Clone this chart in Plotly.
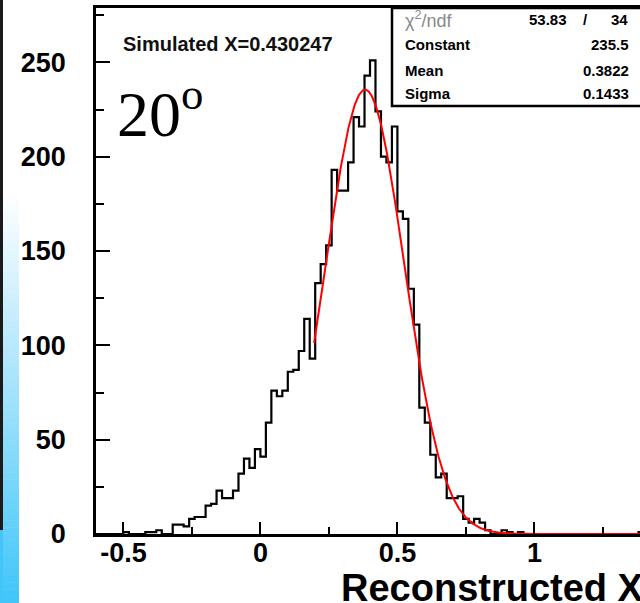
import numpy as np
import plotly.graph_objects as go

# ---------------- data ----------------
BIN_LOW = -0.6
BIN_WIDTH = 0.02
COUNTS = [
    0, 0, 0, 0, 0, 1, 0, 0, 0, 1,
    1, 2, 0, 0, 5, 5, 4, 8, 9, 9,
    15, 16, 23, 19, 19, 23, 32, 40, 35, 45,
    41, 59, 76, 73, 76, 86, 87, 97, 114, 93,
    133, 143, 153, 193, 182, 182, 197, 221, 216, 243,
    251, 224, 200, 197, 216, 171, 167, 130, 111, 67,
    59, 42, 30, 32, 19, 19, 20, 8, 6, 8,
    6, 2, 0, 0, 2, 1, 0, 1, 0, 0,
    0, 0, 0, 0, 0, 0, 0, 0, 0, 0,
    0, 0, 0, 0, 0, 0, 0, 0, 0, 1,
]
FIT_CONSTANT = 235.5
FIT_MEAN = 0.3822
FIT_SIGMA = 0.1433
FIT_RANGE = (0.196, 1.4)
CHI2 = "53.83"
NDF = "34"
SIM_X = "0.430247"
ANGLE_LABEL = "20"
X_TICKS = [-0.5, 0, 0.5, 1]
X_TICK_TEXT = ["-0.5", "0", "0.5", "1"]
Y_TICKS = [0, 50, 100, 150, 200, 250]
X_RANGE = [-0.6, 1.3854]
Y_RANGE = [0, 278.8]

# ---------------- layout geometry (pixels) ----------------
W, H = 640, 603
L, R, T, B = 96, 640, 8, 534


def xp(px):
    return (px - L) / (R - L)


def yp(py):
    return (B - py) / (B - T)


edges = BIN_LOW + BIN_WIDTH * np.arange(len(COUNTS) + 1)
step_y = list(COUNTS) + [COUNTS[-1]]

fig = go.Figure()
fig.add_trace(go.Scatter(
    x=edges, y=step_y, mode="lines", line=dict(color="black", width=2.2, shape="hv"),
    hoverinfo="skip", showlegend=False, cliponaxis=True,
))

fx = np.linspace(FIT_RANGE[0], FIT_RANGE[1], 600)
fy = FIT_CONSTANT * np.exp(-0.5 * ((fx - FIT_MEAN) / FIT_SIGMA) ** 2)
fig.add_trace(go.Scatter(
    x=fx, y=fy, mode="lines", line=dict(color="#ff0000", width=2),
    hoverinfo="skip", showlegend=False,
))

tick_font = dict(family="Liberation Sans", size=27, color="black", weight="bold")

fig.update_xaxes(
    range=X_RANGE, tickvals=X_TICKS, ticktext=X_TICK_TEXT, ticks="inside", ticklen=12,
    tickwidth=1.5, tickcolor="black", showline=True, linewidth=2.5, linecolor="black",
    mirror=True, showgrid=False, zeroline=False, tickfont=tick_font,
    minor=dict(dtick=0.25, tick0=0, ticks="inside", ticklen=7, tickwidth=1.5, tickcolor="black", showgrid=False),
    ticklabelstandoff=-7,
)
fig.update_yaxes(
    range=Y_RANGE, tickvals=Y_TICKS, ticks="inside", ticklen=14, tickwidth=1.5,
    tickcolor="black", showline=True, linewidth=2.5, linecolor="black", mirror=False,
    showgrid=False, zeroline=False, tickfont=tick_font,
    minor=dict(dtick=25, tick0=0, ticks="inside", ticklen=8, tickwidth=1.5, tickcolor="black", showgrid=False),
    ticklabelstandoff=22,
)

shapes = []
# left decorative gradient strip
n = 60
g_top, g_bot = 190, 603
c0 = np.array([255, 255, 255])
c1 = np.array([66, 198, 250])
for i in range(n):
    t = i / (n - 1)
    c = (c0 * (1 - t) + c1 * t).astype(int)
    y0 = g_top + (g_bot - g_top) * i / n
    y1 = g_top + (g_bot - g_top) * (i + 1) / n + 0.5
    shapes.append(dict(type="rect", xref="paper", yref="paper", x0=xp(3), x1=xp(19),
                       y0=yp(y1), y1=yp(y0), line=dict(width=0),
                       fillcolor=f"rgb({c[0]},{c[1]},{c[2]})", layer="below"))
shapes.append(dict(type="rect", xref="paper", yref="paper", x0=xp(0), x1=xp(3),
                   y0=yp(530), y1=yp(0), line=dict(width=0), fillcolor="#1a1a1a"))
shapes.append(dict(type="rect", xref="paper", yref="paper", x0=xp(0), x1=xp(3),
                   y0=yp(603), y1=yp(530), line=dict(width=0), fillcolor="rgb(66,198,250)"))
# stats box
shapes.append(dict(type="rect", xref="paper", yref="paper", x0=xp(392), x1=xp(660),
                   y0=yp(106), y1=yp(8), line=dict(color="black", width=2.5), fillcolor="white"))

annotations = []
annotations.append(dict(text="Simulated X=" + SIM_X, xref="paper", yref="paper", x=xp(121), y=yp(44),
                        xanchor="left", yanchor="middle", showarrow=False,
                        font=dict(family="Liberation Sans", size=20, color="#111", weight="bold")))
annotations.append(dict(text=ANGLE_LABEL + "<sup>o</sup>", xref="paper", yref="paper", x=xp(115), y=yp(109),
                        xanchor="left", yanchor="middle", showarrow=False,
                        font=dict(family="Liberation Serif", size=64, color="black")))
box_font = dict(family="Liberation Sans", size=15, color="black", weight="bold")
rows = [("Constant", f"{FIT_CONSTANT}", 45), ("Mean", f"{FIT_MEAN}", 70), ("Sigma", f"{FIT_SIGMA}", 94)]
annotations.append(dict(text="χ<sup>2</sup>/ndf", xref="paper", yref="paper", x=xp(403), y=yp(20),
                        xanchor="left", yanchor="middle", showarrow=False,
                        font=dict(family="Liberation Sans", size=18, color="#888")))
annotations.append(dict(text=CHI2, xref="paper", yref="paper", x=xp(569), y=yp(20),
                        xanchor="right", yanchor="middle", showarrow=False, font=box_font))
annotations.append(dict(text="/", xref="paper", yref="paper", x=xp(585), y=yp(20),
                        xanchor="center", yanchor="middle", showarrow=False, font=box_font))
annotations.append(dict(text=NDF, xref="paper", yref="paper", x=xp(630), y=yp(20),
                        xanchor="right", yanchor="middle", showarrow=False, font=box_font))
for name, val, yy in rows:
    annotations.append(dict(text=name, xref="paper", yref="paper", x=xp(403), y=yp(yy),
                            xanchor="left", yanchor="middle", showarrow=False, font=box_font))
    annotations.append(dict(text=val, xref="paper", yref="paper", x=xp(631), y=yp(yy),
                            xanchor="right", yanchor="middle", showarrow=False, font=box_font))
annotations.append(dict(text="Reconstructed X", xref="paper", yref="paper", x=xp(646), y=yp(588),
                        xanchor="right", yanchor="middle", showarrow=False,
                        font=dict(family="Liberation Sans", size=38, color="black", weight="bold")))

fig.update_layout(
    width=W, height=H, margin=dict(l=L, r=W - R, t=T, b=H - B, pad=0),
    plot_bgcolor="white", paper_bgcolor="white", shapes=shapes, annotations=annotations,
    showlegend=False,
)

fig.write_html("out.html")
